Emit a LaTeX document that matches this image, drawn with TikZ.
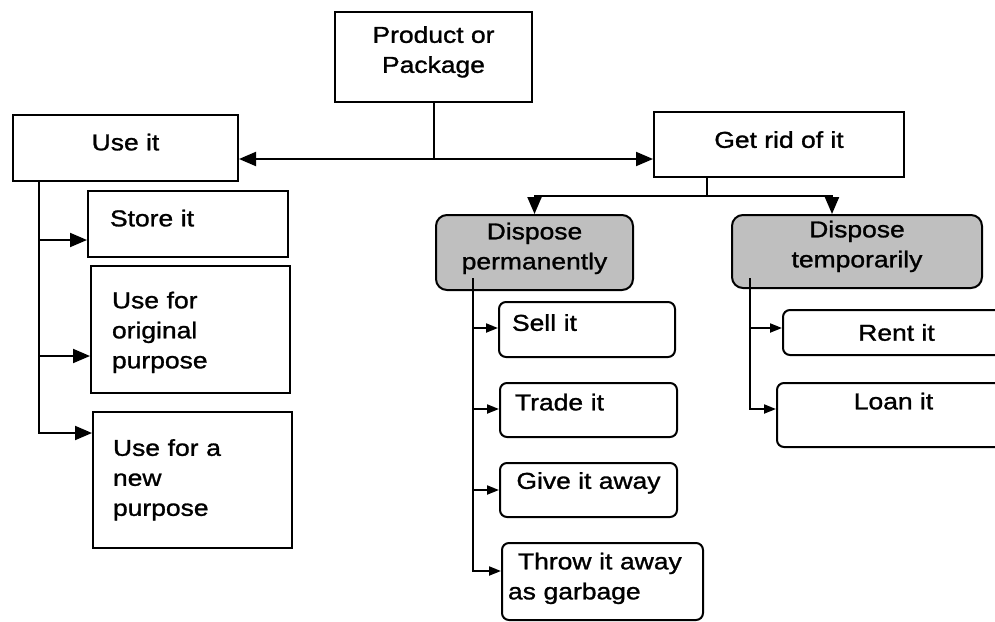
\documentclass[tikz,border=0pt]{standalone}
\usepackage{fontspec}
\setmainfont{Liberation Sans}[FakeStretch=1.15, FakeBold=1.2]
\usetikzlibrary{arrows.meta}

\begin{document}
\begin{tikzpicture}[x=1pt, y=-1pt,
		box/.style={draw, line width=2pt, inner sep=0pt, font=\fontsize{23}{30}\selectfont},
		rbox/.style={box, rounded corners=7pt},
		dispose/.style={rbox, rounded corners=11pt, fill=black!25},
		lift/.style={text depth=#1},
		link/.style={line width=2pt},
		bigarrow/.style={link, -{Triangle[length=17pt, width=14pt]}},
		smallarrow/.style={link, -{Triangle[length=12pt, width=9pt]}}]
		\useasboundingbox (0,0) rectangle (995,621);
		\clip (0,0) rectangle (995,621);
		%Level 1
		\node[box, minimum width=197pt, minimum height=90pt, align=center, lift=15pt](prod) at (433.5,57) {Product or\\Package};
		\node[box, minimum width=225pt, minimum height=66pt, lift=12pt](usei) at (125.5,148) {Use it};
		\node[box, minimum width=250pt, minimum height=65pt, lift=10pt](rid) at (779,144.5) {Get rid of it};
		%Level 2, use it
		\node[box, minimum width=200pt, minimum height=66pt, text width=156pt, align=left, lift=12pt](store) at (188,224) {Store it};
		\node[box, minimum width=199pt, minimum height=127pt, text width=157pt, align=left, lift=59pt](orig) at (190.5,329.5) {Use for\\original\\purpose};
		\node[box, minimum width=199pt, minimum height=136pt, text width=159pt, align=left, lift=65pt](newp) at (192.5,480) {Use for a\\new\\purpose};
		%Level 2, get rid of it
		\node[dispose, minimum width=197pt, minimum height=75pt, align=center, lift=13pt](perm) at (534.5,252.5) {Dispose\\permanently};
		\node[dispose, minimum width=250pt, minimum height=73pt, align=center, lift=15pt](temp) at (857,251.5) {Dispose\\temporarily};
		%Level 3
		\node[rbox, minimum width=176pt, minimum height=55pt, text width=150pt, align=left, lift=14pt](sell) at (587,329.5) {Sell it};
		\node[rbox, minimum width=177pt, minimum height=54pt, text width=147pt, align=left, lift=16pt](trade) at (588.5,410) {Trade it};
		\node[rbox, minimum width=177pt, minimum height=54pt, lift=19pt](give) at (588.5,490) {Give it away};
		\node[rbox, minimum width=201pt, minimum height=77pt, text width=189pt, align=left, lift=41pt](throw) at (602.5,581.5) {\hspace*{10pt}Throw it away\\as garbage};
		\node[rbox, minimum width=227pt, minimum height=45pt](rent) at (896.5,332.5) {Rent it};
		\node[rbox, minimum width=233pt, minimum height=64pt, lift=28pt](loan) at (893.5,415) {Loan it};
		%connectors
		\coordinate (hub) at (prod.south |- 0,159);
		\draw[link] (prod) -- (hub);
		\draw[bigarrow] (hub) -- (hub -| usei.east);
		\draw[bigarrow] (hub) -- (hub -| rid.west);
		\coordinate (split) at (707,196);
		\draw[link] (split |- rid.south) -- (split);
		\draw[bigarrow] (split) -| (perm.north);
		\draw[bigarrow] (split) -| ([xshift=-25pt]temp.north);
		\coordinate (utrunk) at ([xshift=27pt]usei.south west);
		\draw[bigarrow] (utrunk) |- (newp.west |- 0,433);
		\foreach \n/\y in {store/240, orig/356}
			\draw[bigarrow] (utrunk |- 0,\y) -- (\n.west |- 0,\y);
		\coordinate (ptrunk) at ([xshift=38pt, yshift=13pt]perm.south west);
		\draw[smallarrow] (ptrunk) |- (throw.west |- 0,571);
		\foreach \n/\y in {sell/328, trade/409, give/490}
			\draw[smallarrow] (ptrunk |- 0,\y) -- (\n.west |- 0,\y);
		\coordinate (ttrunk) at ([xshift=19pt, yshift=11pt]temp.south west);
		\draw[smallarrow] (ttrunk) |- (loan.west |- 0,409);
		\draw[smallarrow] (ttrunk |- 0,328) -- (rent.west |- 0,328);
	\end{tikzpicture}
\end{document}
